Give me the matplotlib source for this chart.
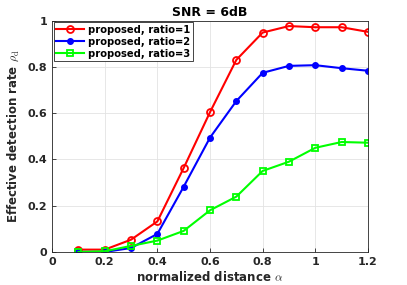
import numpy as np
import matplotlib
matplotlib.use('Agg')
import matplotlib.pyplot as plt

alpha = [0.1, 0.2, 0.3, 0.4, 0.5, 0.6, 0.7, 0.8, 0.9, 1.0, 1.1, 1.2]
ratio1 = [0.010, 0.010, 0.053, 0.132, 0.363, 0.604, 0.830, 0.948, 0.976, 0.971, 0.971, 0.951]
ratio2 = [0.000, 0.000, 0.017, 0.078, 0.282, 0.494, 0.652, 0.774, 0.804, 0.807, 0.794, 0.783]
ratio3 = [0.000, 0.003, 0.026, 0.049, 0.091, 0.180, 0.239, 0.350, 0.390, 0.450, 0.475, 0.472]
xticks = [0, 0.2, 0.4, 0.6, 0.8, 1, 1.2]
xlabels = ['0', '0.2', '0.4', '0.6', '0.8', '1', '1.2']
yticks = [0, 0.2, 0.4, 0.6, 0.8, 1]
ylabels = ['0', '0.2', '0.4', '0.6', '0.8', '1']

plt.rcParams['font.family'] = 'DejaVu Sans'
plt.rcParams['font.weight'] = 'bold'
plt.rcParams['mathtext.fontset'] = 'cm'

fig = plt.figure(figsize=(4.07, 2.85), dpi=100)
ax = fig.add_axes([0.128, 0.116, 0.776, 0.812])

ax.plot(alpha, ratio1, color='#ff0000', lw=1.5, marker='o', ms=5, mfc='none', mew=1.3, label='proposed, ratio=1')
ax.plot(alpha, ratio2, color='#0000ff', lw=1.5, marker='o', ms=4, mfc='#0000ff', label='proposed, ratio=2')
ax.plot(alpha, ratio3, color='#00ff00', lw=1.5, marker='s', ms=4.5, mfc='none', mew=1.3, label='proposed, ratio=3')

ax.set_xlim(0, 1.2)
ax.set_ylim(0, 1)
ax.set_xticks(xticks)
ax.set_xticklabels(xlabels)
ax.set_yticks(yticks)
ax.set_yticklabels(ylabels)
ax.tick_params(direction='in', length=3, labelsize=8, colors='#262626', width=0.6)
for lab in ax.get_xticklabels() + ax.get_yticklabels():
    lab.set_fontweight('bold')
ax.grid(True, color='#e3e3e3', lw=0.6)
ax.set_axisbelow(True)
for sp in ax.spines.values():
    sp.set_color('#262626')
    sp.set_linewidth(0.6)

ax.set_xlabel(r'normalized distance $\alpha$', fontsize=8.5, fontweight='bold', color='#262626', labelpad=2)
ax.set_ylabel(r'Effective detection rate $\rho_{\rm d}$', fontsize=8.5, fontweight='bold', color='#262626', labelpad=5)
ax.set_title('SNR = 6dB', fontsize=9, fontweight='bold', pad=3)

leg = ax.legend(loc='upper left', prop={'weight': 'bold', 'size': 7.2}, frameon=True, fancybox=False,
                borderpad=0.25, handlelength=2.8, labelspacing=0.2, borderaxespad=0.15, handletextpad=0.4)
leg.get_frame().set_edgecolor('#262626')
leg.get_frame().set_linewidth(0.6)
leg.get_frame().set_alpha(1)

plt.savefig('out.png', dpi=100)
